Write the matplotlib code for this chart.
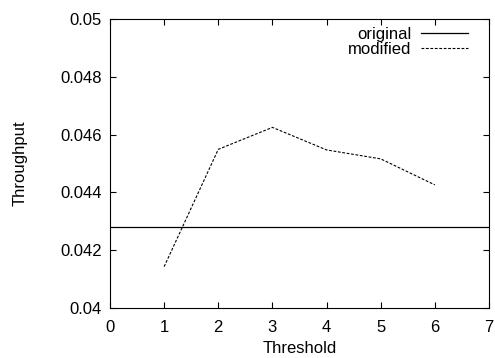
import matplotlib
matplotlib.use("Agg")
import matplotlib.pyplot as plt

threshold = [1, 2, 3, 4, 5, 6]
modified = [0.04143, 0.04549, 0.04625, 0.04547, 0.04516, 0.04426]
original = 0.04279

plt.rcParams['font.family'] = ['Liberation Sans', 'DejaVu Sans']
plt.rcParams['font.size'] = 12

fig = plt.figure(figsize=(4.95, 3.58), dpi=100)
ax = fig.add_axes([0.2222, 0.1397, 0.7657, 0.8072])

ax.axhline(original, color='black', lw=0.9, label='original')
ax.plot(threshold, modified, color='black', lw=0.8, ls=(0, (2.5, 1.5)), label='modified')

ax.set_xlim(0, 7)
ax.set_ylim(0.04, 0.05)
ax.set_xticks(range(0, 8))
ax.set_yticks([0.04, 0.042, 0.044, 0.046, 0.048, 0.05])
ax.set_yticklabels(['0.04', '0.042', '0.044', '0.046', '0.048', '0.05'])
ax.tick_params(direction='in', top=True, right=True, length=4, width=0.8)
ax.tick_params(axis='x', pad=9)
ax.tick_params(axis='y', pad=6)
for s in ax.spines.values():
    s.set_linewidth(0.8)

ax.set_xlabel('Threshold', labelpad=4)
ax.set_ylabel('Throughput', labelpad=23)

leg = ax.legend(loc='upper right', markerfirst=False, frameon=False,
                handlelength=2.8, handletextpad=0.6, labelspacing=0.0,
                borderaxespad=0.0, bbox_to_anchor=(0.962, 0.995))
for t in leg.get_texts():
    t.set_ha('right')

fig.savefig('out.png', dpi=100)
